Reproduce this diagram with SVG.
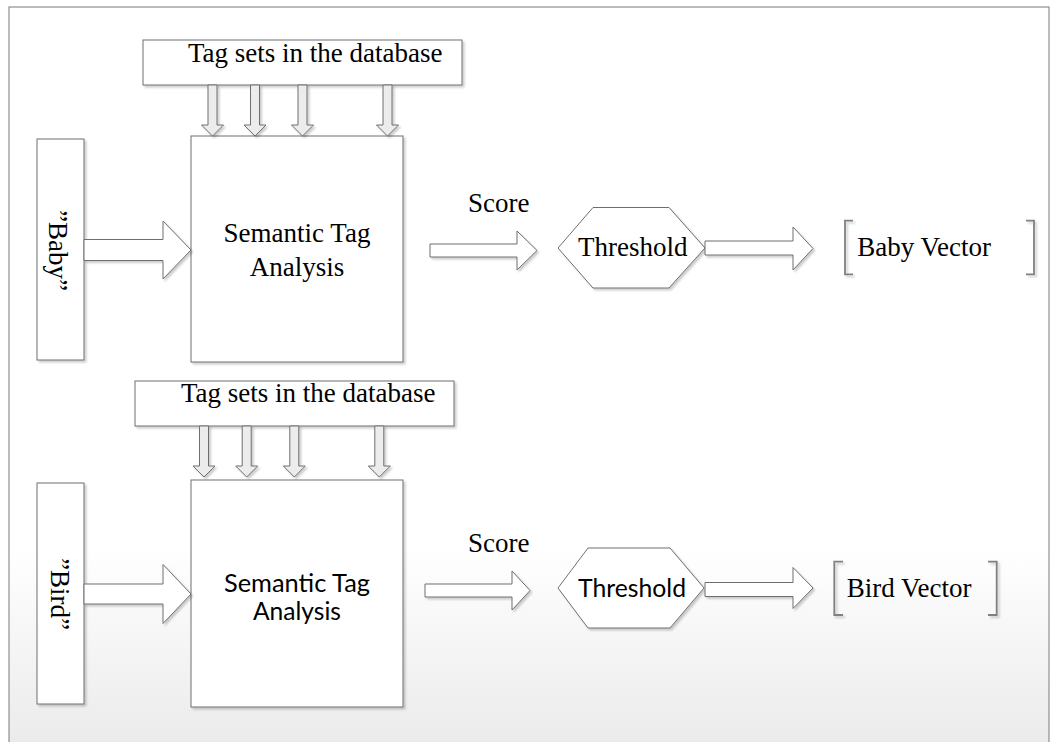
<svg xmlns="http://www.w3.org/2000/svg" xmlns:xlink="http://www.w3.org/1999/xlink" width="1058" height="742" viewBox="0 0 1058 742">
  <defs>
    <linearGradient id="bg" gradientUnits="userSpaceOnUse" x1="0" y1="0" x2="0" y2="742">
      <stop offset="0" stop-color="#ffffff"/>
      <stop offset="0.74" stop-color="#ffffff"/>
      <stop offset="1" stop-color="#ebebeb"/>
    </linearGradient>
    <filter id="shadow" x="-10%" y="-10%" width="130%" height="130%">
      <feDropShadow dx="2" dy="2" stdDeviation="1.2" flood-color="#000" flood-opacity="0.2"/>
    </filter>
    <!-- vertical block arrow, origin at top centre of the shaft -->
    <path id="downArrow" d="M-4.5,0 L4.5,0 L4.5,40 L11,40 L0,51 L-11,40 L-4.5,40 Z"/>
  </defs>
  <style>
    .frame { fill: url(#bg); stroke: #7a7a7a; stroke-width: 1; }
    .box { fill: #ffffff; stroke: #6e6e6e; stroke-width: 1; filter: url(#shadow); }
    .arrow { fill: #ffffff; stroke: #6e6e6e; stroke-width: 1; filter: url(#shadow); }
    .feed { fill: #ececec; stroke: #6e6e6e; stroke-width: 1; filter: url(#shadow); }
    .bracket { fill: none; stroke: #808080; stroke-width: 1.8; filter: url(#shadow); }
    .serif { font-family: "Liberation Serif", "Times New Roman", serif; font-size: 27px; fill: #000; }
    .sans { font-family: "Lato", "Liberation Sans", sans-serif; font-size: 25px; fill: #000; }
    .mid { text-anchor: middle; }
  </style>

  <!-- outer frame -->
  <rect class="frame" x="9" y="7" width="1040" height="745"/>

  <!-- ===== upper pipeline: "Baby" ===== -->
  <g id="tagset-baby">
    <rect class="box" x="143" y="40" width="319" height="45"/>
    <text class="serif" x="188" y="62">Tag sets in the database</text>
  </g>
  <g id="input-baby">
    <rect class="box" x="37" y="139" width="47" height="221"/>
    <text class="serif mid" transform="translate(49,250.5) rotate(90)">”Baby”</text>
  </g>
  <g id="analysis-baby">
    <rect class="box" x="191" y="136" width="212" height="226"/>
    <text class="serif mid" x="297" y="241.7">Semantic Tag</text>
    <text class="serif mid" x="297" y="276">Analysis</text>
  </g>
  <g id="score-label-baby">
    <text class="serif" x="468" y="211.7">Score</text>
  </g>
  <g id="threshold-baby">
    <polygon class="box" points="558,248 593,207.5 669,207.5 705,248 669,288 593,288"/>
    <text class="serif" x="578" y="256">Threshold</text>
  </g>
  <g id="vector-baby">
    <path class="bracket" d="M853,220.7 H845 V274.3 H853 M1026,220.7 H1034 V274.3 H1026"/>
    <text class="serif" x="857.3" y="256">Baby Vector</text>
  </g>

  <!-- ===== lower pipeline: "Bird" ===== -->
  <g id="tagset-bird">
    <rect class="box" x="135" y="381" width="319" height="45"/>
    <text class="serif" x="181" y="401.7">Tag sets in the database</text>
  </g>
  <g id="input-bird">
    <rect class="box" x="37" y="483" width="47" height="221"/>
    <text class="serif mid" transform="translate(51,594) rotate(90)">”Bird”</text>
  </g>
  <g id="analysis-bird">
    <rect class="box" x="191" y="480" width="212" height="227"/>
    <text class="sans mid" x="297" y="592" textLength="146" lengthAdjust="spacingAndGlyphs">Semantic Tag</text>
    <text class="sans mid" x="297" y="620" textLength="88" lengthAdjust="spacingAndGlyphs">Analysis</text>
  </g>
  <g id="score-label-bird">
    <text class="serif" x="468" y="551.7">Score</text>
  </g>
  <g id="threshold-bird">
    <polygon class="box" points="558,588 588,548 670,548 704,588 670,628 588,628"/>
    <text class="sans" x="578" y="596.7" textLength="108" lengthAdjust="spacingAndGlyphs">Threshold</text>
  </g>
  <g id="vector-bird">
    <path class="bracket" d="M843,561.7 H834.3 V615 H843 M988,561.7 H996.7 V615 H988"/>
    <text class="serif" x="846.7" y="596.7">Bird Vector</text>
  </g>

  <!-- ===== block-arrow connectors ===== -->
  <g id="connectors">
    <!-- tag sets feeding the analysis boxes -->
    <use class="feed" href="#downArrow" xlink:href="#downArrow" transform="translate(212.5,85)"/>
    <use class="feed" href="#downArrow" xlink:href="#downArrow" transform="translate(255,85)"/>
    <use class="feed" href="#downArrow" xlink:href="#downArrow" transform="translate(302.5,85)"/>
    <use class="feed" href="#downArrow" xlink:href="#downArrow" transform="translate(387.5,85)"/>
    <use class="feed" href="#downArrow" xlink:href="#downArrow" transform="translate(204,426)"/>
    <use class="feed" href="#downArrow" xlink:href="#downArrow" transform="translate(246.7,426)"/>
    <use class="feed" href="#downArrow" xlink:href="#downArrow" transform="translate(294.3,426)"/>
    <use class="feed" href="#downArrow" xlink:href="#downArrow" transform="translate(379.3,426)"/>

    <!-- input word into analysis -->
    <path class="arrow" d="M84,239.5 L163,239.5 L163,221 L191,250 L163,279 L163,260.5 L84,260.5 Z"/>
    <path class="arrow" d="M84,584 L163,584 L163,564.5 L191,594 L163,623.5 L163,604 L84,604 Z"/>

    <!-- score into threshold -->
    <path class="arrow" d="M430,244 L517,244 L517,231 L537,250.5 L517,270 L517,257 L430,257 Z"/>
    <path class="arrow" d="M425,584 L512,584 L512,571 L530,590.5 L512,610 L512,597 L425,597 Z"/>

    <!-- threshold into vector -->
    <path class="arrow" d="M705,241 L793,241 L793,227 L813,248.5 L793,270 L793,255 L705,255 Z"/>
    <path class="arrow" d="M705,582.5 L793,582.5 L793,567.5 L813,588 L793,608.5 L793,596.5 L705,596.5 Z"/>
  </g>
</svg>
